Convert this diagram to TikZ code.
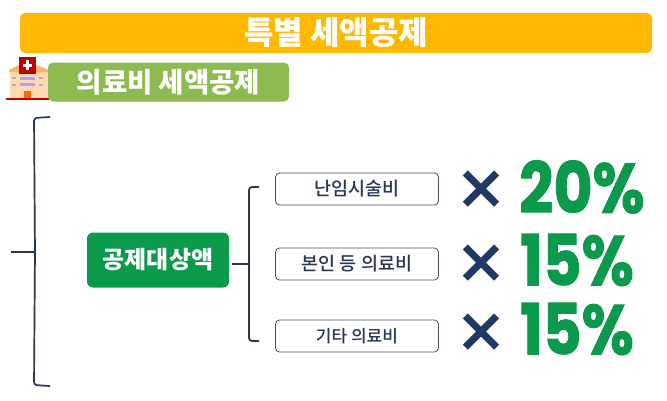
\documentclass[tikz,border=0pt]{standalone}
\usepackage{fontspec}
\setmainfont{Noto Sans CJK KR}
\newfontfamily\pctfont[FakeBold=1.5]{Poppins}
\newfontfamily\timesfont{DejaVu Sans}
\newfontfamily\itemfont{Noto Sans CJK KR Medium}
\definecolor{amber}{HTML}{FFB900}
\definecolor{leaf}{HTML}{8DBB4F}
\definecolor{forest}{HTML}{0B9A4C}
\definecolor{navy}{HTML}{1F3864}
\definecolor{slate}{HTML}{4A4F68}
\definecolor{ink}{HTML}{2A3557}
\tikzset{
  banner/.style={rounded corners=5pt,inner sep=0pt,text=white,font=\bfseries},
  itembox/.style={draw=slate,line width=0.8pt,fill=white,rounded corners=4pt,minimum width=163pt,minimum height=32pt,inner sep=0pt,text=ink,font=\itemfont\fontsize{18.5}{18.5}\selectfont},
  bracket/.style={draw=ink,line width=1.7pt,rounded corners=3pt},
  pct/.style={text=forest,inner sep=0pt,xscale=0.81,yscale=0.95,font=\pctfont\bfseries\fontsize{74}{74}\selectfont},
  timesmark/.style={text=navy,inner sep=0pt,font=\timesfont\bfseries\fontsize{62}{62}\selectfont},
}
\begin{document}
\begin{tikzpicture}[x=1pt,y=-1pt]
\useasboundingbox (0,0) rectangle (667,400);
\fill[white] (0,0) rectangle (667,400);
% top banner
\node[banner,fill=amber,minimum width=632pt,minimum height=40pt,font=\bfseries\fontsize{32}{32}\selectfont] (title) at (336,33) {특별 세액공제};
% hospital icon
\fill[red!75!black] (6,98) rectangle (49,99.5);
\fill[orange!30!white] (10,72) rectangle (48,98);
\fill[orange!60!white] (9,70) -- (19,65) -- (37,65) -- (48,70) -- (48,72) -- (9,72) -- cycle;
\fill[red!75!black] (19,57) rectangle (36,74);
\fill[white] (26,60) rectangle (29,70); \fill[white] (23,63.5) rectangle (32,66.5);
\fill[orange!30!white] (19,74) rectangle (36,98);
\fill[blue!35!white] (20,77) rectangle (35,80); \fill[blue!35!white] (20,83) rectangle (35,86);
\fill[gray!60!white] (12,77) rectangle (16,79); \fill[gray!60!white] (12,84) rectangle (16,86);
\fill[gray!60!white] (39,77) rectangle (43,79); \fill[gray!60!white] (39,84) rectangle (43,86);
\fill[orange!80!red] (24,91) rectangle (31,98);
% sub banner
\node[banner,fill=leaf,minimum width=241pt,minimum height=39pt,font=\bfseries\fontsize{27.5}{27.5}\selectfont] (sub) at (168.5,82) {의료비 세액공제};
% main node and items
\node[fill=forest,rounded corners=6pt,text=white,minimum width=142pt,minimum height=55pt,inner sep=0pt,font=\bfseries\fontsize{24}{24}\selectfont] (base) at (158,260) {공제대상액};
\node[itembox] (i1) at (357,189) {난임시술비};
\node[itembox] (i2) at (357,264) {본인 등 의료비};
\node[itembox,font=\itemfont\fontsize{17}{17}\selectfont] (i3) at (357,336) {기타 의료비};
% times
\node[timesmark] (t1) at (481,190) {×};
\node[timesmark] (t2) at (481,264) {×};
\node[timesmark] (t3) at (481,333) {×};
% percents
\node[pct] (p1) at (582,187) {20\%};
\node[pct] (p2) at (577,260) {15\%};
\node[pct] (p3) at (577,329) {15\%};
% brackets
\coordinate (bt) at (259,187);
\coordinate (bb) at (259,341);
\coordinate (bm) at (249,264);
\draw[bracket] (bt) -- (249,187) -- (249,341) -- (bb);
\draw[bracket] (base.east |- bm) ++(3,0) -- (bm);
\coordinate (at) at (50,117);
\coordinate (ab) at (50,386);
\coordinate (am) at (35,252);
\coordinate (al) at (11,252);
\draw[bracket] (at) -- (34,118) -- (am) -- (34,385) -- (ab);
\draw[bracket,rounded corners=0pt] (al) -- (am);
\end{tikzpicture}
\end{document}
